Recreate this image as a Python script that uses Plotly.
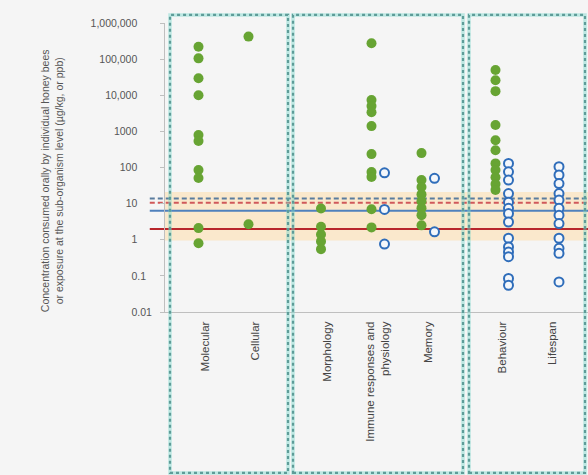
import plotly.graph_objects as go

# ---------------- data ----------------
categories = ["Molecular", "Cellular", "Morphology", "Immune responses and<br>physiology",
              "Memory", "Behaviour", "Lifespan"]
category_pos = [1.0, 2.0, 3.45, 4.46, 5.46, 6.94, 7.95]

green_values = [
    [220000, 105000, 29500, 10000, 790, 540, 85, 51, 2.1, 0.8],          # Molecular
    [420000, 2.7],                                                        # Cellular
    [7.3, 2.3, 1.4, 0.9, 0.55],                                           # Morphology
    [275000, 7400, 5000, 3400, 1400, 235, 75, 55, 7.0, 2.2],              # Immune
    [250, 45, 29, 18, 11.7, 7.5, 4.8, 2.5],                               # Memory
    [50000, 26000, 13000, 1500, 570, 300, 130, 85, 54, 35, 24],           # Behaviour
    [],                                                                   # Lifespan
]
blue_values = [
    [], [], [],
    [71, 6.9, 0.76],                                                      # Immune
    [50, 1.66],                                                           # Memory
    [130, 76, 45, 19, 11, 7.4, 5.3, 3.1, 1.1, 0.63, 0.46, 0.34, 0.085, 0.055],  # Behaviour
    [105, 62, 36, 19, 12.5, 7.4, 4.8, 2.8, 1.1, 0.58, 0.42, 0.068],      # Lifespan
]

ytick_vals = [0.01, 0.1, 1, 10, 100, 1000, 10000, 100000, 1000000]
ytick_text = ["0.01", "0.1", "1", "10", "100", "1000", "10,000", "100,000", "1,000,000"]

band_range = [0.95, 21]
red_solid = 2.0
blue_solid = 6.3
red_dashed = 10.5
blue_dashed = 13.9

group_bounds = [(0.30, 2.66), (2.76, 6.16), (6.28, 8.60)]

# ---------------- figure ----------------
NB = "\u00a0"
pad = {"0.01": 0, "0.1": 2}
ytick_text_padded = [t + NB * pad.get(t, 5) for t in ytick_text]

offset = 0.13
gx, gy, bx, by = [], [], [], []
for p, gv, bv in zip(category_pos, green_values, blue_values):
    gx += [p - offset] * len(gv)
    gy += gv
    bx += [p + offset] * len(bv)
    by += bv

fig = go.Figure()
fig.add_trace(go.Scatter(
    x=gx, y=gy, mode="markers", showlegend=False,
    marker=dict(size=10, color="#67A433", line=dict(width=0))))
fig.add_trace(go.Scatter(
    x=bx, y=by, mode="markers", showlegend=False,
    marker=dict(size=9, color="#F4F7FB", line=dict(width=2, color="#2F6DBA"))))

shapes = []
# band
shapes.append(dict(type="rect", xref="paper", yref="y", x0=0, x1=1,
                   y0=band_range[0], y1=band_range[1],
                   fillcolor="#FAE8CC", line=dict(width=0), layer="below"))
# lines
for val, col, dash in [(blue_dashed, "#5A7C9E", "5px,3px"), (red_dashed, "#D0585A", "5px,3px"),
                       (blue_solid, "#4F81BD", "solid"), (red_solid, "#B8262C", "solid")]:
    shapes.append(dict(type="line", xref="paper", yref="y", x0=-0.036, x1=1,
                       y0=val, y1=val, line=dict(color=col, width=2, dash=dash), layer="below"))
# group boxes
for x0, x1 in group_bounds:
    shapes.append(dict(type="rect", xref="x", yref="paper", x0=x0, x1=x1, y0=-0.557, y1=1.028,
                       line=dict(color="rgba(120,215,205,0.45)", width=3.5), layer="above"))
    shapes.append(dict(type="rect", xref="x", yref="paper", x0=x0, x1=x1, y0=-0.557, y1=1.028,
                       line=dict(color="#5E9C98", width=2.2, dash="dot"), layer="above"))

fig.update_layout(
    width=588, height=475,
    margin=dict(l=165, r=0, t=23, b=163),
    paper_bgcolor="#F5F5F5", plot_bgcolor="#F5F5F5",
    font=dict(family="Liberation Sans, Arial, sans-serif", color="#555555"),
    shapes=shapes,
    xaxis=dict(range=[0.2, 8.66], tickvals=category_pos, ticktext=categories,
               tickangle=-90, ticks="", showgrid=False, zeroline=False,
               showline=True, linecolor="#BFBFBF", linewidth=1,
               tickfont=dict(size=11.5, color="#444444"), ticklabelstandoff=4),
    yaxis=dict(type="log", range=[-2, 6], tickvals=ytick_vals, ticktext=ytick_text_padded,
               ticks="outside", ticklen=4, tickcolor="#BFBFBF", showgrid=False, zeroline=False,
               showline=True, linecolor="#BFBFBF", linewidth=1,
               tickfont=dict(size=10.5, color="#555555"), ticklabelstandoff=6),
    annotations=[dict(
        text="Concentration consumed orally by individual honey bees<br>or exposure at the sub-organism level (µg/kg, or ppb)",
        textangle=-90, xref="paper", yref="paper", x=-0.267, y=0.453,
        xanchor="center", yanchor="middle", showarrow=False,
        font=dict(size=10.5, color="#555555"))],
)

fig.write_html("out.html")
